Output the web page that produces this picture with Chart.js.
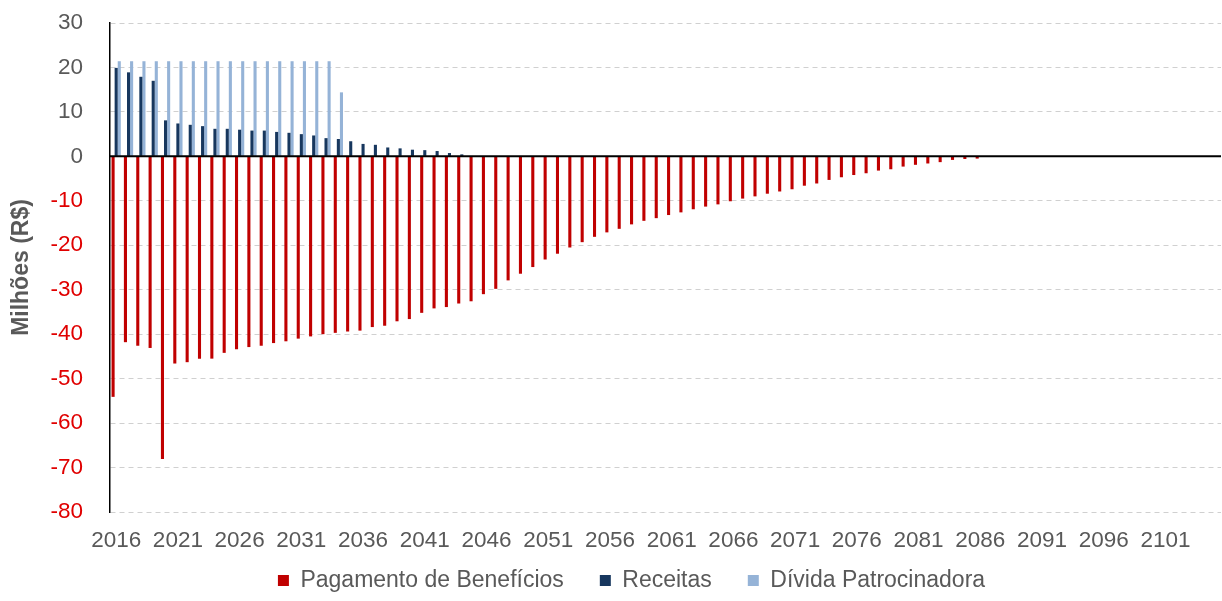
<!DOCTYPE html>
<html>
<head>
<meta charset="utf-8">
<script src="https://cdn.jsdelivr.net/npm/chart.js@4"></script>
<style>
html,body{margin:0;padding:0;background:#fff;}
#wrap{width:1222px;height:601px;}
</style>
</head>
<body>
<div id="wrap"><canvas id="c" width="1222" height="601"></canvas></div>
<script>
const years = [];
for (let y = 2016; y <= 2105; y++) years.push(String(y));

const pagamento = [
 -54.1,-41.8,-42.6,-43.1,-68.1,-46.6,-46.3,-45.5,-45.5,-44.2,
 -43.4,-42.9,-42.6,-42.0,-41.6,-41.0,-40.5,-40.0,-39.7,-39.4,
 -39.2,-38.4,-38.1,-37.1,-36.6,-35.2,-34.2,-33.9,-33.1,-32.6,
 -31.0,-29.8,-27.9,-26.4,-24.9,-23.2,-21.9,-20.5,-19.3,-18.1,
 -17.1,-16.3,-15.3,-14.5,-13.9,-13.2,-12.6,-11.9,-11.3,-10.8,
 -10.1,-9.5,-9.0,-8.4,-7.9,-7.4,-6.6,-6.1,-5.3,-4.7,
 -4.2,-3.8,-3.2,-2.9,-2.3,-1.9,-1.6,-1.3,-0.8,-0.6,
 -0.5
];
const receitas = [
 19.9,18.9,17.9,17.0,8.1,7.4,7.1,6.8,6.2,6.2,
 6.0,5.8,5.8,5.5,5.3,5.0,4.7,4.1,3.9,3.4,
 2.8,2.6,2.0,1.8,1.5,1.4,1.2,0.75,0.45
];
const divida = [
 21.4,21.4,21.4,21.4,21.4,21.4,21.4,21.4,21.4,21.4,
 21.4,21.4,21.4,21.4,21.4,21.4,21.4,21.4,14.4
];
const yTicksMin = -80, yTicksMax = 30, yStep = 10;

function pad(arr){ const a = arr.slice(); while (a.length < years.length) a.push(null); return a; }

const FONT = 'Liberation Sans, Arial, sans-serif';

const zeroLine = {
  id: 'zeroLine',
  afterDatasetsDraw(chart){
    const {ctx, chartArea, scales} = chart;
    const y = scales.y.getPixelForValue(0);
    ctx.save();
    ctx.strokeStyle = '#000';
    ctx.lineWidth = 2;
    ctx.beginPath();
    ctx.moveTo(chartArea.left, y);
    ctx.lineTo(chartArea.right, y);
    ctx.stroke();
    ctx.restore();
  }
};

// legend row placement (layout only)
const legendShift = {
  id: 'legendShift',
  afterLayout(chart){
    const lg = chart.legend;
    if (lg) {
      lg.top -= 21; lg.height += 21;
      lg.left += 21; lg.right += 21;
    }
  }
};

new Chart(document.getElementById('c'), {
  type: 'bar',
  data: {
    labels: years,
    datasets: [
      {label: 'Pagamento de Benefícios', data: pad(pagamento), backgroundColor: '#c00000'},
      {label: 'Receitas', data: pad(receitas), backgroundColor: '#17375e'},
      {label: 'Dívida Patrocinadora', data: pad(divida), backgroundColor: '#95b3d7'}
    ]
  },
  options: {
    responsive: false,
    animation: false,
    devicePixelRatio: 1,
    layout: {padding: {top: 23, right: 1, left: 0, bottom: 0}},
    datasets: {bar: {categoryPercentage: 0.75, barPercentage: 1.0, borderWidth: 0}},
    plugins: {
      legend: {
        position: 'bottom',
        maxHeight: 47,
        labels: {
          font: {family: FONT, size: 23},
          color: '#595959',
          boxWidth: 11, boxHeight: 11,
          padding: 36
        }
      },
      tooltip: {enabled: false}
    },
    scales: {
      x: {
        afterFit(scale){ scale.height = 42; scale.paddingLeft = 0; scale.paddingRight = 0; },
        grid: {display: false, drawTicks: false},
        border: {display: false},
        ticks: {
          autoSkip: false, maxRotation: 0, minRotation: 0, padding: 15,
          color: '#595959',
          font: {family: FONT, size: 22.5},
          callback: function(v, i){ return i % 5 === 0 ? years[i] : ''; }
        }
      },
      y: {
        min: yTicksMin, max: yTicksMax,
        afterFit(scale){ scale.width = 110; scale.paddingTop = 0; scale.paddingBottom = 0; },
        grid: {color: '#d0d0d0', lineWidth: 1, drawTicks: false},
        border: {display: true, color: '#000', width: 1.5, dash: [5,4]},
        ticks: {
          stepSize: yStep, padding: 27,
          font: {family: FONT, size: 22.5},
          color: (c) => (c.tick && c.tick.value < 0) ? '#e00000' : '#595959'
        },
        title: {
          display: true, text: 'Milhões (R$)', color: '#595959',
          font: {family: FONT, size: 23, weight: 'bold'},
          padding: {top: 8, bottom: 0}
        }
      }
    }
  },
  plugins: [zeroLine, legendShift]
});
</script>
</body>
</html>
